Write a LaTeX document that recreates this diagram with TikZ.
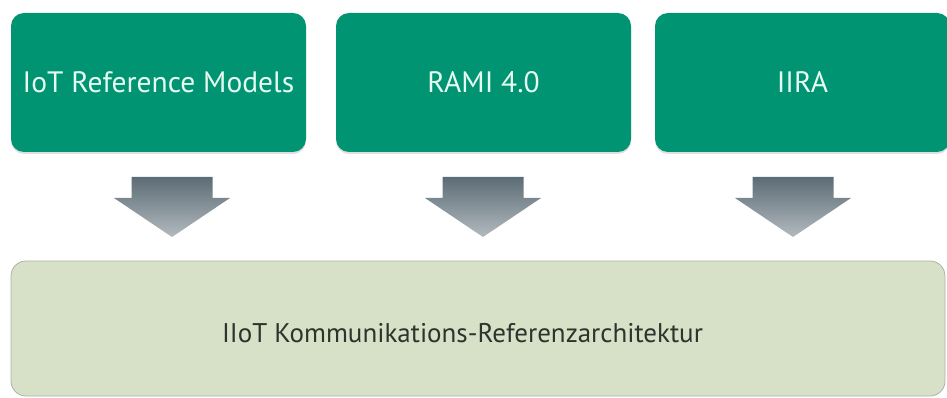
\documentclass[tikz,border=0pt]{standalone}
\usepackage{fontspec}
\setmainfont{PT Sans}
\usetikzlibrary{calc,shadows}
\definecolor{boxgreen}{RGB}{0,148,114}
\definecolor{textmint}{RGB}{230,250,242}
\definecolor{basefill}{RGB}{214,225,200}
\definecolor{baseline}{RGB}{170,178,165}
\definecolor{basetext}{RGB}{45,52,45}
\definecolor{arrtop}{RGB}{92,108,118}
\definecolor{arrbot}{RGB}{178,186,190}
\tikzset{
  greenbox/.style={draw=none, fill=boxgreen, rounded corners=13pt,
    minimum width=295pt, minimum height=139pt, inner sep=0pt,
    text=textmint, font=\fontsize{29.5}{34}\selectfont,
    drop shadow={shadow xshift=0pt, shadow yshift=-2pt, fill=black!25, opacity=0.5}},
  basebox/.style={draw=baseline, line width=0.8pt, fill=basefill, rounded corners=15pt,
    minimum width=934pt, minimum height=135pt, inner sep=0pt},
  basetxt/.style={text=basetext, font=\fontsize{27}{31}\selectfont, inner sep=0pt},
  bigarrow/.style={top color=arrtop, bottom color=arrbot, draw=none}
}
\begin{document}
\begin{tikzpicture}[x=1pt,y=-1pt]
\useasboundingbox (0,0) rectangle (947,398);
\node[greenbox] (m1) at (158.5,82.5) {IoT Reference Models};
\node[greenbox] (m2) at (483.5,82.5) {RAMI 4.0};
\node[greenbox] (m3) at (802.5,82.5) {IIRA};
\node[basebox] (base) at (478,328.5) {};
\node[basetxt] (basel) at (462.5,333) {IIoT Kommunikations-Referenzarchitektur};
\foreach \c/\n in {172/a1,483/a2,793/a3}{
  \coordinate (\n) at (\c,237);
  \path[bigarrow] ($(\n)+(-40.5,-60)$) -- ($(\n)+(40.5,-60)$) -- ($(\n)+(40.5,-39)$)
     -- ($(\n)+(58,-39)$) -- (\n) -- ($(\n)+(-58,-39)$) -- ($(\n)+(-40.5,-39)$) -- cycle;
}
\end{tikzpicture}
\end{document}
